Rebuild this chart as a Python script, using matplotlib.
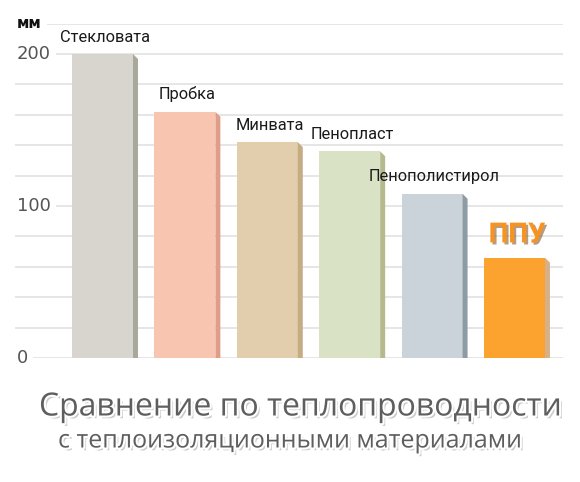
import matplotlib
matplotlib.use('Agg')
import matplotlib.pyplot as plt
import matplotlib.patheffects as pe
from matplotlib.patches import Polygon

categories = ['Стекловата', 'Пробка', 'Минвата', 'Пенопласт', 'Пенополистирол', 'ППУ']
values = [200, 162, 142, 136, 108, 66]
front_colors = ['#d8d4ce', '#f7c5b0', '#e2ceac', '#dae2c5', '#cad3d9', '#fca22e']
side_colors = ['#a9a89c', '#e09d87', '#c6ac82', '#b4b98e', '#8d9ba4', '#d8b088']
ytick_values = [0, 100, 200]
ytick_labels = ['0', '100', '200']
grid_levels = [0, 20, 40, 60, 80, 100, 120, 140, 160, 180, 200, 220]
unit_label = 'мм'
title = 'Сравнение по теплопроводности'
subtitle = 'с теплоизоляционными материалами'

label_font = 'Roboto'

W, H = 580, 482
fig = plt.figure(figsize=(W / 100, H / 100), dpi=100)
fig.patch.set_facecolor('white')
px_per_unit = 1.52
ax = fig.add_axes([15 / W, (H - 358) / H, (563 - 15) / W, 220 * px_per_unit / H])
xmin, xmax = -1.062, 5.589
ax.set_xlim(xmin, xmax)
ax.set_ylim(0, 220)
ax.axis('off')

bar_w = 0.74
side_w = 5 / 82.4
side_dy = 5 / px_per_unit

# tick labels
tick_texts = {}
for v, lab in zip(ytick_values, ytick_labels):
    tick_texts[v] = ax.text(xmin + 2 / 82.4, v, lab, ha='left', va='center',
                            fontsize=13, color='#555555',
                            family='DejaVu Sans')
tick_texts[220] = ax.text(xmin + 2 / 82.4, 220, unit_label, ha='left', va='center',
                          fontsize=11, color='#111111', fontweight='bold',
                          family='DejaVu Sans')

fig.canvas.draw()
renderer = fig.canvas.get_renderer()
inv = ax.transData.inverted()
for lvl in grid_levels:
    start = xmin
    if lvl in tick_texts:
        bb = tick_texts[lvl].get_window_extent(renderer)
        start = inv.transform((bb.x1 + 5, 0))[0]
    ax.hlines(lvl, start, xmax, color='#e6e6e6', lw=1.4, zorder=0)

for i, (cat, v, fc, sc) in enumerate(zip(categories, values, front_colors, side_colors)):
    ax.bar(i, v, width=bar_w, color=fc, zorder=2, linewidth=0)
    r = i + bar_w / 2
    ax.add_patch(Polygon([(r, v), (r + side_w, v - side_dy), (r + side_w, 0), (r, 0)],
                         closed=True, facecolor=sc, edgecolor='none', zorder=2))
    cx = i + side_w / 2
    if cat == 'ППУ':
        ax.annotate(cat, (cx, v), xytext=(0, 11), textcoords='offset points',
                    ha='center', va='baseline', fontsize=20, fontweight='bold',
                    color='#f7931e', family=label_font,
                    path_effects=[pe.SimplePatchShadow(offset=(1.5, -1.5), shadow_rgbFace='#8a5a2a', alpha=0.6),
                                  pe.Normal()])
    else:
        ax.annotate(cat, (cx, v), xytext=(0, 9), textcoords='offset points',
                    ha='center', va='baseline', fontsize=11.8, color='#1a1a1a',
                    family=label_font)

title_fx = [pe.SimplePatchShadow(offset=(2, -2), shadow_rgbFace='#999999', alpha=0.5),
            pe.Stroke(linewidth=3, foreground='white'), pe.Normal()]
fig.text(301 / W, 1 - 407 / H, title, ha='center', va='center', fontsize=23,
         color='#5e5e5e', family='Open Sans', path_effects=title_fx)
fig.text(290 / W, 1 - 441 / H, subtitle, ha='center', va='center', fontsize=18,
         color='#5e5e5e', family='Open Sans', path_effects=title_fx)

fig.savefig('out.png', dpi=100, facecolor='white')
